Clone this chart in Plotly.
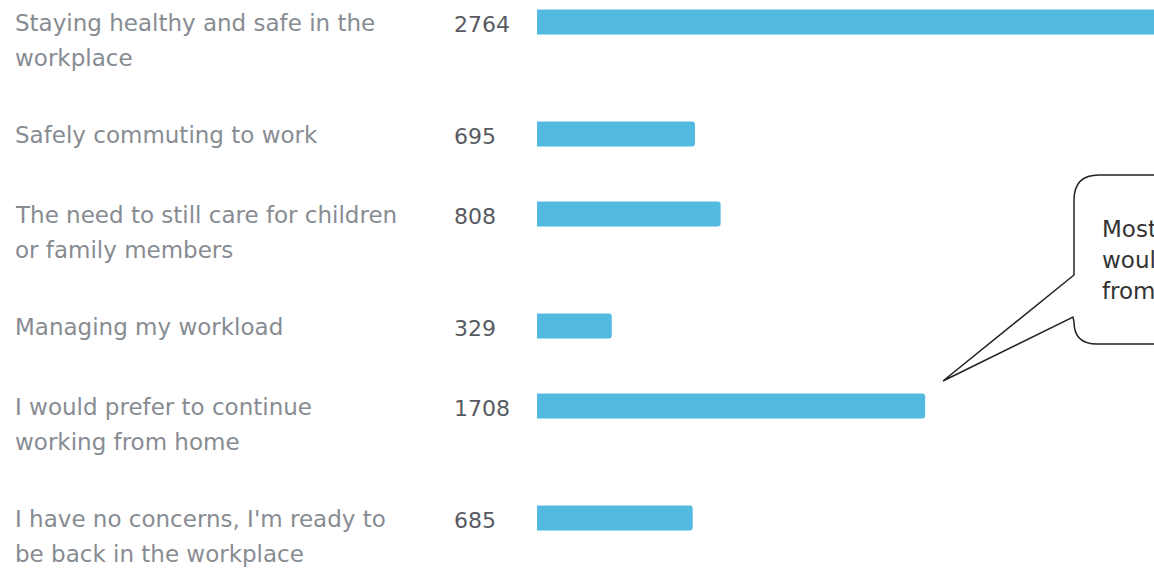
import plotly.graph_objects as go

W, H = 1154, 568

labels = [
    ["Staying healthy and safe in the", "workplace"],
    ["Safely commuting to work"],
    ["The need to still care for children", "or family members"],
    ["Managing my workload"],
    ["I would prefer to continue", "working from home"],
    ["I have no concerns, I'm ready to", "be back in the workplace"],
]
values = [2764, 695, 808, 329, 1708, 685]
callout_lines = ["Most people", "would prefer to work", "from home"]

BAR_COLOR = "#52b9e0"
LABEL_COLOR = "#878c92"
VALUE_COLOR = "#575b61"
FONT = "DejaVu Sans"
LINE_H = 35

# row positions (pixel-like units) derived from number of label lines
ypos = []
y = 22
for lab in labels:
    ypos.append(y)
    y += 48 + 32 * len(lab)

fig = go.Figure()
fig.add_trace(go.Bar(
    x=values, y=ypos, orientation="h", width=25,
    marker=dict(color=BAR_COLOR, line=dict(width=0)),
    hoverinfo="skip",
))

annotations = []
for yy, lab, v in zip(ypos, labels, values):
    for k, line in enumerate(lab):
        annotations.append(dict(
            x=13 / W, xref="paper", y=yy + k * LINE_H, yref="y", yshift=-1,
            text=line, showarrow=False, xanchor="left", yanchor="middle",
            font=dict(family=FONT, size=23, color=LABEL_COLOR),
        ))
    annotations.append(dict(
        x=452 / W, xref="paper", y=yy, yref="y", yshift=-2,
        text=str(v), showarrow=False, xanchor="left", yanchor="middle",
        font=dict(family=FONT, size=22, color=VALUE_COLOR),
    ))

# callout text
for k, line in enumerate(callout_lines):
    annotations.append(dict(
        x=1100 / W, xref="paper", y=229 + k * 31, yref="y",
        text=line, showarrow=False, xanchor="left", yanchor="middle",
        font=dict(family=FONT, size=23, color="#333333"),
    ))

def px(x):
    return x / W

def py(yv):
    return 1 - yv / H

pts = [
    ("M", [(1074, 275)]),
    ("L", [(943, 381)]),
    ("L", [(1073, 317)]),
    ("L", [(1074, 322)]),
    ("Q", [(1074, 344), (1097, 344)]),
    ("L", [(1300, 344)]),
    ("L", [(1300, 175)]),
    ("L", [(1099, 175)]),
    ("Q", [(1074, 175), (1074, 200)]),
]
path = ""
for cmd, ps in pts:
    path += cmd + " " + " ".join(f"{px(a):.5f},{py(b):.5f}" for a, b in ps) + " "
path += "Z"

fig.update_layout(
    width=W, height=H,
    margin=dict(l=0, r=0, t=0, b=0),
    paper_bgcolor="white", plot_bgcolor="white",
    showlegend=False,
    xaxis=dict(domain=[537 / W, 1], range=[0, 2715], visible=False, fixedrange=True),
    yaxis=dict(domain=[0, 1], range=[H, 0], visible=False, fixedrange=True),
    barcornerradius=3,
    annotations=annotations,
    shapes=[dict(type="path", xref="paper", yref="paper", path=path,
                 line=dict(color="#222222", width=1.5), fillcolor="rgba(0,0,0,0)", layer="above")],
)

fig.write_html("out.html", config={"displayModeBar": False})
